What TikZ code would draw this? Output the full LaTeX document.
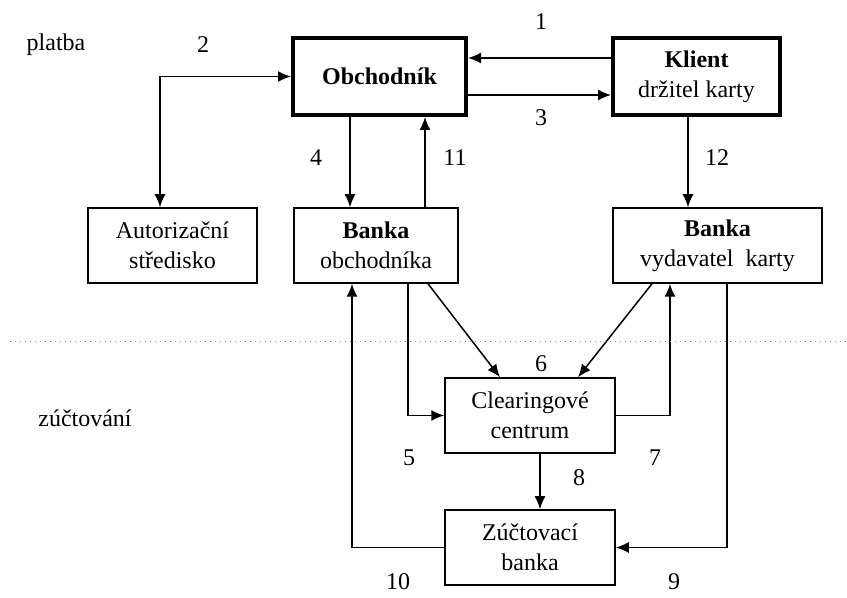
\documentclass[tikz,border=0pt]{standalone}
\usepackage{fontspec}
\setmainfont{Liberation Serif}
\usetikzlibrary{arrows.meta}

\begin{document}
\begin{tikzpicture}[x=0.5pt, y=-0.5pt,
    font=\fontsize{12}{15}\selectfont,
    box/.style={draw, line width=0.75pt, align=center, inner sep=0pt,
      minimum height=37.5pt},
    thickbox/.style={box, line width=2pt, minimum height=38.5pt},
    num/.style={inner sep=0pt},
    arr/.style={draw, line width=0.75pt, -{Latex[length=6.5pt,width=5.5pt]}},
    sep/.style={draw=black!45, line width=0.5pt, dotted}
  ]
  \useasboundingbox (0,0) rectangle (847,598);

  % platba
  \node (obchodnik) [thickbox, minimum width=86.5pt] at (379.5,76.5) {\textbf{Obchodník}};
  \node (klient) [thickbox, minimum width=83.5pt] at (696.5,76.5) {\textbf{Klient}\\držitel karty};
  \node (autor) [box, minimum width=84.5pt] at (172.5,245.5) {Autorizační\\středisko};
  \node (bankaobch) [box, minimum width=82pt] at (376,245.5) {\textbf{Banka}\\obchodníka};
  \node (bankavyd) [box, minimum width=104.5pt] at (717.5,245.5) {\textbf{Banka}\\vydavatel\ \ karty};

  % zuctovani
  \node (clearing) [box, minimum width=85pt] at (530,415.5) {Clearingové\\centrum};
  \node (zuctovaci) [box, minimum width=85pt] at (530,547.5) {Zúčtovací\\banka};

  \coordinate (x2) at (160,0);
  \coordinate (x4) at (350,0);
  \coordinate (x11) at (425,0);
  \coordinate (x12) at (688,0);
  \coordinate (x5) at (408,0);
  \coordinate (x6a) at (428,0);
  \coordinate (x6b) at (500,0);
  \coordinate (x6c) at (652,0);
  \coordinate (x6d) at (578,0);
  \coordinate (x7) at (670,0);
  \coordinate (x8) at (540,0);
  \coordinate (x10) at (352,0);
  \coordinate (x9) at (727,0);

  {
      \draw[arr] ([yshift=9.25pt]klient.west) -- ([yshift=9.25pt]obchodnik.east);
      \draw[arr] ([yshift=-9.25pt]obchodnik.east) -- ([yshift=-9.25pt]klient.west);
      \draw[arr, {Latex[length=6.5pt,width=5.5pt]}-{Latex[length=6.5pt,width=5.5pt]}] (obchodnik.west) -| (x2 |- autor.north);
      \draw[arr] (x4 |- obchodnik.south) -- (x4 |- bankaobch.north);
      \draw[arr] (x11 |- bankaobch.north) -- (x11 |- obchodnik.south);
      \draw[arr] (x12 |- klient.south) -- (x12 |- bankavyd.north);

      \draw[arr] (x5 |- bankaobch.south) |- (clearing.west);
      \draw[arr] (x6a |- bankaobch.south) -- (x6b |- clearing.north);
      \draw[arr] (x6c |- bankavyd.south) -- (x6d |- clearing.north);
      \draw[arr] (clearing.east) -| (x7 |- bankavyd.south);
      \draw[arr] (x8 |- clearing.south) -- (x8 |- zuctovaci.north);
      \draw[arr] (zuctovaci.west) -| (x10 |- bankaobch.south);
      \draw[arr] (x9 |- bankavyd.south) |- (zuctovaci.east);
  };

  \coordinate (sep-left) at (10,342);
  \coordinate (sep-right) at (847,342);
  \draw[sep] (sep-left) -- (sep-right);

  \node (platba) at (56,45) {platba};
  \node (zuctovani) at (85,418) {zúčtování};

  \node (n1) [num] at (541,22) {1};
  \node (n2) [num] at (203,45) {2};
  \node (n3) [num] at (541,118) {3};
  \node (n4) [num] at (316,158) {4};
  \node (n11) [num] at (455,158) {11};
  \node (n12) [num] at (717,158) {12};
  \node (n6) [num] at (541,364) {6};
  \node (n5) [num] at (409,458) {5};
  \node (n7) [num] at (655,458) {7};
  \node (n8) [num] at (579,478) {8};
  \node (n10) [num] at (398,582) {10};
  \node (n9) [num] at (674,582) {9};
\end{tikzpicture}
\end{document}
